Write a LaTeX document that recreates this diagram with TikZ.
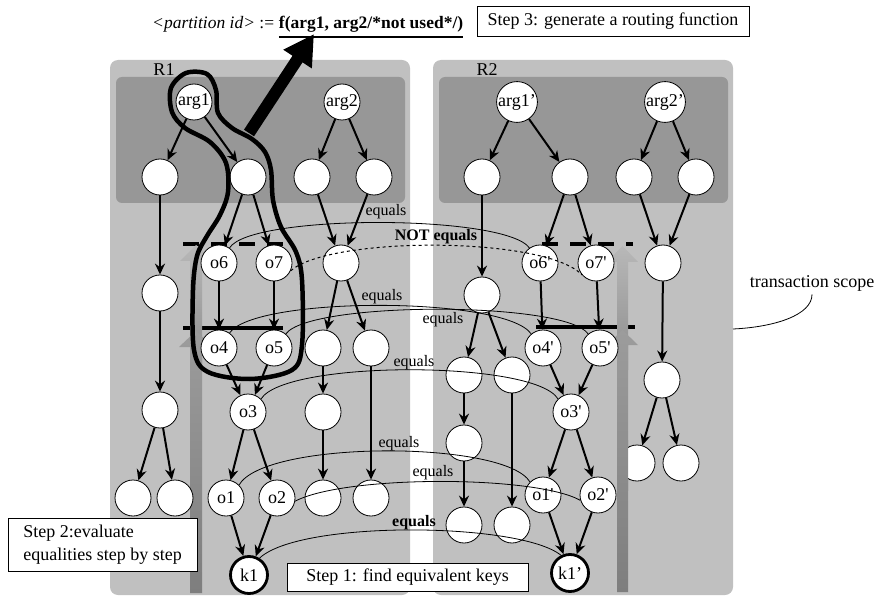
\documentclass[tikz,border=0pt]{standalone}
\usepackage{fontspec}
\setmainfont{Liberation Serif}
\usetikzlibrary{arrows.meta}
\definecolor{panelc}{HTML}{C0C0C0}
\definecolor{innerc}{HTML}{979797}
\definecolor{barlo}{HTML}{7E7E7E}
\definecolor{barhi}{HTML}{9C9C9C}
\definecolor{uplo}{HTML}{8C8C8C}
\definecolor{uphi}{HTML}{B8B8B8}
\newcommand{\fsA}{\fontsize{18}{21}\selectfont}
\newcommand{\fsE}{\fontsize{16}{18}\selectfont}
\newcommand{\fsT}{\fontsize{17.5}{20}\selectfont}
\newcommand{\fsL}{\fontsize{18}{23}\selectfont}
\newcommand{\qs}{\textquotesingle}
\newcommand{\rtwolower}{\shade[bottom color=barlo,top color=barhi] (617,592) -- (617,345) -- (607,345) -- (622.5,330) -- (638,345) -- (628,345) -- (628,592) -- cycle;}
\begin{document}
\begin{tikzpicture}[x=1pt,y=-1pt,
  nd/.style={circle,draw,fill=white,line width=0.8pt,minimum size=36pt,inner sep=0pt,font=\fsA},
  kn/.style={nd,line width=2.8pt,minimum size=37pt},
  ar/.style={-{Stealth[length=11pt,width=10pt]},line width=2pt},
  eqc/.style={line width=0.8pt},
  eql/.style={font=\fsE,inner sep=0pt},
  boxn/.style={draw,fill=white,line width=0.8pt,inner sep=0pt,font=\fsA},
  dbar/.style={line width=4.5pt,dash pattern=on 16pt off 12pt},
  sbar/.style={line width=4pt}
]
\useasboundingbox (0,0) rectangle (881,596);
% panels
\fill[panelc,rounded corners=8pt] (110,60) rectangle (410,595);
\fill[innerc,rounded corners=6pt] (116,77) rectangle (405,203);
\fill[panelc,rounded corners=8pt] (433,60) rectangle (733,595);
\fill[innerc,rounded corners=6pt] (439,77) rectangle (728,203);
\node[font=\fsA] (r1) at (164,70) {R1};
\node[font=\fsA] (r2) at (487,70) {R2};
% bars
\draw[dbar] (183,244) -- (290,244);
\draw[sbar] (183,328) -- (283,328);
\draw[dbar] (542,244) -- (633,244);
\draw[sbar] (536,327) -- (635,327);
% R1 gray arrows
\shade[bottom color=uplo,top color=uphi] (190,370) -- (190,261) -- (180,261) -- (196,245) -- (212,261) -- (202,261) -- (202,370) -- cycle;
\shade[bottom color=barlo,top color=barhi] (190,593) -- (190,347) -- (179,347) -- (196,331) -- (213,347) -- (202,347) -- (202,593) -- cycle;
% R2 gray arrows
\shade[bottom color=uplo,top color=uphi] (617,370) -- (617,262) -- (607,262) -- (622.5,246) -- (638,262) -- (628,262) -- (628,370) -- cycle;
\rtwolower
% R1 nodes
\node[nd] (a1) at (194,102) {arg1};
\node[nd] (a2) at (342,102) {arg2};
\node[nd] (n1) at (160,177) {};
\node[nd] (n2) at (248,177) {};
\node[nd] (n3) at (312,177) {};
\node[nd] (n4) at (374,177) {};
\node[nd] (n5) at (160,293) {};
\node[nd] (o6) at (219,263) {o6};
\node[nd] (o7) at (274,263) {o7};
\node[nd] (n6) at (341,263) {};
\node[nd] (o4) at (219,348) {o4};
\node[nd] (o5) at (274,348) {o5};
\node[nd] (n7) at (323,348) {};
\node[nd] (n8) at (371,348) {};
\node[nd] (n9) at (160,410) {};
\node[nd] (o3) at (248,412) {o3};
\node[nd] (n10) at (323,412) {};
\node[nd] (n11) at (133,498) {};
\node[nd] (n12) at (175,498) {};
\node[nd] (o1) at (226,498) {o1};
\node[nd] (o2) at (277,498) {o2};
\node[nd] (n13) at (323,498) {};
\node[nd] (n14) at (371,498) {};
\node[kn] (k1) at (249,575) {k1};
% R2 nodes
\node[nd] (b1) at (517,102) {arg1’};
\node[nd] (b2) at (665,102) {arg2’};
\node[nd] (m1) at (482,177) {};
\node[nd] (m2) at (570,177) {};
\node[nd] (m3) at (634,177) {};
\node[nd] (m4) at (696,177) {};
\node[nd] (p6) at (540,263) {o6\qs};
\node[nd] (p7) at (596,263) {o7\qs};
\node[nd] (m6) at (663,263) {};
\node[nd] (m5) at (482,295) {};
\node[nd] (p4) at (543,348) {o4\qs};
\node[nd] (p5) at (600,348) {o5\qs};
\node[nd] (m7) at (464,375) {};
\node[nd] (m8) at (512,375) {};
\node[nd] (m9) at (662,380) {};
\node[nd] (p3) at (571,412) {o3\qs};
\node[nd] (m10) at (464,443) {};
\node[nd] (m11) at (637,463) {};
\node[nd] (m12) at (681,463) {};
\node[nd] (p1) at (543,495) {o1\qs};
\node[nd] (p2) at (598,495) {o2\qs};
\node[nd] (m13) at (464,525) {};
\node[nd] (m14) at (512,525) {};
\node[kn] (k1p) at (570,573) {k1’};
% bar passes over the circle m11
\begin{scope}
\clip (600,440) rectangle (640,490);
\rtwolower
\end{scope}
% R1 edges
\draw[ar] (a1) -- (n1);
\draw[ar] (a1) -- (n2);
\draw[ar] (a2) -- (n3);
\draw[ar] (a2) -- (n4);
\draw[ar] (n1) -- (n5);
\draw[ar] (n5) -- (n9);
\draw[ar] (n9) -- (n11);
\draw[ar] (n9) -- (n12);
\draw[ar] (n2) -- (o6);
\draw[ar] (n2) -- (o7);
\draw[ar] (n3) -- (n6);
\draw[ar] (n4) -- (n6);
\draw[ar] (o6) -- (o4);
\draw[ar] (o7) -- (o5);
\draw[ar] (n6) -- (n7);
\draw[ar] (n6) -- (n8);
\draw[ar] (o4) -- (o3);
\draw[ar] (o5) -- (o3);
\draw[ar] (n7) -- (n10);
\draw[ar] (n8) -- (n14);
\draw[ar] (n10) -- (n13);
\draw[ar] (o3) -- (o1);
\draw[ar] (o3) -- (o2);
\draw[ar] (o1) -- (k1);
\draw[ar] (o2) -- (k1);
% R2 edges
\draw[ar] (b1) -- (m1);
\draw[ar] (b1) -- (m2);
\draw[ar] (b2) -- (m3);
\draw[ar] (b2) -- (m4);
\draw[ar] (m1) -- (m5);
\draw[ar] (m5) -- (m7);
\draw[ar] (m5) -- (m8);
\draw[ar] (m7) -- (m10);
\draw[ar] (m10) -- (m13);
\draw[ar] (m8) -- (m14);
\draw[ar] (m2) -- (p6);
\draw[ar] (m2) -- (p7);
\draw[ar] (m3) -- (m6);
\draw[ar] (m4) -- (m6);
\draw[ar] (p6) -- (p4);
\draw[ar] (p7) -- (p5);
\draw[ar] (p4) -- (p3);
\draw[ar] (p5) -- (p3);
\draw[ar] (p3) -- (p1);
\draw[ar] (p3) -- (p2);
\draw[ar] (p1) -- (k1p);
\draw[ar] (p2) -- (k1p);
\draw[ar] (m6) -- (m9);
\draw[ar] (m9) -- (m11);
\draw[ar] (m9) -- (m12);
% equals curves
\draw[eqc] (o6.55) .. controls (250,214) and (505,214) .. (p6.125);
\draw[eqc,dashed,line width=1pt] (o7.-25) .. controls (330,236) and (545,236) .. (p7.220);
\draw[eqc] (o4.55) .. controls (255,296) and (505,296) .. (p4.130);
\draw[eqc] (o5.50) .. controls (310,301) and (565,301) .. (p5.130);
\draw[eqc] (o3.45) .. controls (285,360) and (535,360) .. (p3.135);
\draw[eqc] (o1.45) .. controls (265,440) and (505,440) .. (p1.135);
\draw[eqc] (o2.-10) .. controls (345,475) and (535,475) .. (p2.197);
\draw[eqc] (k1.58) .. controls (300,520) and (520,522) .. (k1p.117);
\node[eql] (e1) at (386,212) {equals};
\node[eql,font=\fsE\bfseries] (e2) at (436,237) {NOT equals};
\node[eql] (e3) at (382,297) {equals};
\node[eql] (e4) at (443,320) {equals};
\node[eql] (e5) at (414,363) {equals};
\node[eql] (e6) at (399,444) {equals};
\node[eql] (e7) at (433,473) {equals};
\node[eql,font=\fsE\bfseries] (e8) at (414,523) {equals};
% boxes
\node[boxn,minimum width=189pt,minimum height=53pt,align=left,font=\fsL] (s2) at (102.5,544.5) {Step 2:evaluate\\equalities step by step};
\node[boxn,minimum width=241pt,minimum height=28pt] (s1) at (407.5,577) {Step 1: find equivalent keys};
\node[boxn,minimum width=272pt,minimum height=30pt] (s3) at (613,21) {Step 3: generate a routing function};
% transaction scope
\node[font=\fsA] (ts) at (812,283) {transaction scope};
\coordinate (tsA) at (733,329);
\draw[line width=0.8pt] (tsA) .. controls (775,327) and (812,315) .. (ts.south);
% title
\node[font=\fsT,anchor=base west,inner sep=0pt] (ptxt) at (152,29) {\textit{<partition id>} :=};
\node[font=\fsT,anchor=base west,inner sep=0pt] (ftxt) at ([xshift=4.4pt]ptxt.base east) {\textbf{f(arg1, arg2/*not used*/)}};
\draw[line width=2.5pt] ([yshift=-8pt]ftxt.base west) -- ([yshift=-8pt]ftxt.base east);
% big arrow
\coordinate (bgs) at (249,133);
\coordinate (bgt) at (314,34);
\draw[line width=12pt,-{Triangle[length=30pt,width=32pt]}] (bgs) -- (bgt);
% lasso
\draw[line width=4.5pt] plot[smooth cycle,tension=0.55] coordinates {(186,73) (207,74) (216,90) (218,113) (232,128) (252,139) (265,152) (271,170) (273,200) (281,227) (296,252) (302,280) (302,345) (292,370) (250,379) (208,372) (194,350) (193,290) (197,256) (207,236) (220,215) (228,192) (226,163) (210,142) (185,128) (172,112) (171,88)};
\end{tikzpicture}
\end{document}
